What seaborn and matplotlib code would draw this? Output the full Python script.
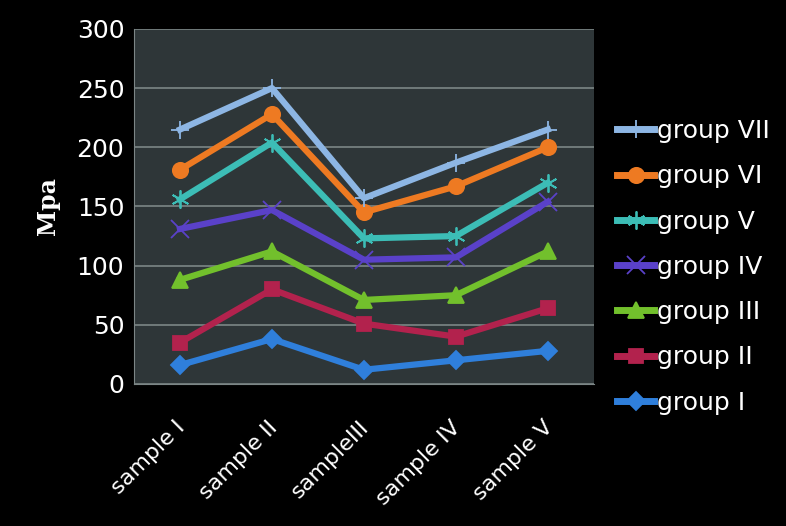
import pandas as pd
import seaborn as sns
import matplotlib.pyplot as plt
import matplotlib.transforms as mtransforms

# Data
samples = ['sample I', 'sample II', 'sampleIII', 'sample IV', 'sample V']
groups = ['group I', 'group II', 'group III', 'group IV', 'group V', 'group VI', 'group VII']
group_i = [16, 38, 12, 20, 28]
group_ii = [35, 80, 51, 40, 64]
group_iii = [88, 112, 71, 75, 112]
group_iv = [131, 147, 105, 107, 154]
group_v = [156, 204, 123, 125, 170]
group_vi = [181, 228, 145, 167, 200]
group_vii = [215, 250, 157, 187, 215]

values = [group_i, group_ii, group_iii, group_iv, group_v, group_vi, group_vii]
rows = []
for g, vals in zip(groups, values):
    for s, v in zip(samples, vals):
        rows.append({'sample': s, 'group': g, 'Mpa': v})
df = pd.DataFrame(rows)

palette = {
    'group I': '#2F7FDB',
    'group II': '#B2224D',
    'group III': '#72C02C',
    'group IV': '#5A41C9',
    'group V': '#3CBDB6',
    'group VI': '#EE7A22',
    'group VII': '#8DB6E4',
}
markers = {
    'group I': 'D',
    'group II': 's',
    'group III': '^',
    'group IV': 'x',
    'group V': (6, 2, 0),
    'group VI': 'o',
    'group VII': '+',
}
msizes = {'group I': 9, 'group II': 10, 'group III': 11, 'group IV': 13,
          'group V': 13, 'group VI': 11, 'group VII': 13}

fig = plt.figure(figsize=(7.86, 5.26), dpi=100, facecolor='black')
ax = fig.add_axes([0.1705, 0.27, 0.585, 0.675])
ax.set_facecolor('#2E3638')

for g in groups:
    sub = df[df['group'] == g]
    c = palette[g]
    sns.lineplot(data=sub, x='sample', y='Mpa', color=c, marker=markers[g],
                 markersize=msizes[g], markeredgecolor=c, markeredgewidth=1.3,
                 linewidth=4.5, label=g, ax=ax, sort=False)

ax.set_xlim(-0.5, 4.5)
ax.set_ylim(0, 300)
ax.set_yticks(range(0, 301, 50))
ax.grid(axis='y', color='#7C8686', linewidth=1.2)
ax.set_axisbelow(True)
for sp in ax.spines.values():
    sp.set_visible(False)
ax.spines['left'].set_visible(True)
ax.spines['left'].set_color('#7C8686')
ax.spines['bottom'].set_visible(True)
ax.spines['bottom'].set_color('#7C8686')
ax.tick_params(axis='y', length=0, colors='white', pad=7)
ax.tick_params(axis='x', length=0, colors='white', pad=24)
plt.setp(ax.get_yticklabels(), fontsize=18, color='white')
plt.setp(ax.get_xticklabels(), fontsize=16, color='white', rotation=45,
         ha='right', rotation_mode='anchor')
shift = mtransforms.ScaledTranslation(-5 / 100, 0, fig.dpi_scale_trans)
for lbl in ax.get_xticklabels():
    lbl.set_transform(lbl.get_transform() + shift)
ax.set_xlabel('')
ax.set_ylabel('Mpa', fontsize=17, fontweight='bold', family='serif',
              color='white', labelpad=12)

handles, labels = ax.get_legend_handles_labels()
leg = ax.legend(handles[::-1], labels[::-1], loc='center left',
                bbox_to_anchor=(1.05, 0.33), frameon=False, fontsize=18,
                labelcolor='white', handlelength=1.5, handletextpad=0.1,
                labelspacing=0.85, borderpad=0, borderaxespad=0)
for h in leg.legend_handles:
    h.set_linewidth(5)

fig.savefig('out.png', facecolor='black')
